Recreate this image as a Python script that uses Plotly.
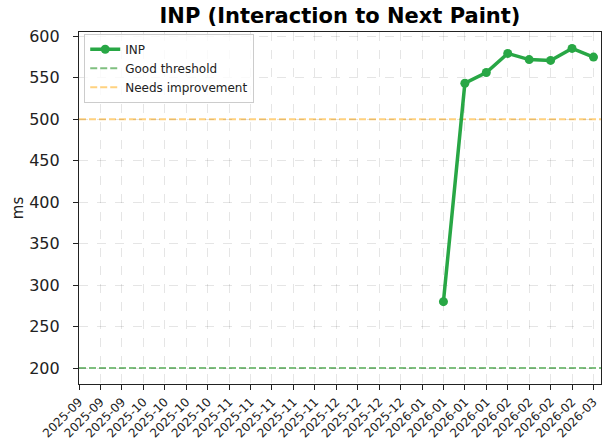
import plotly.graph_objects as go

# weekly tick dates shown on the x axis
week_dates = [
    "2025-09-14", "2025-09-21", "2025-09-28",
    "2025-10-05", "2025-10-12", "2025-10-19", "2025-10-26",
    "2025-11-02", "2025-11-09", "2025-11-16", "2025-11-23", "2025-11-30",
    "2025-12-07", "2025-12-14", "2025-12-21", "2025-12-28",
    "2026-01-04", "2026-01-11", "2026-01-18", "2026-01-25",
    "2026-02-01", "2026-02-08", "2026-02-15", "2026-02-22",
    "2026-03-01",
]
tick_labels = [d[:7] for d in week_dates]

# INP measurements (ms), only the weeks that have data
inp_dates = week_dates[17:]
inp_ms = [280, 543.5, 556.5, 579.5, 572, 571, 585.5, 575]

good_threshold = 200
needs_improvement = 500

GREEN = "#28a745"
FONT = "DejaVu Sans, sans-serif"

fig = go.Figure()

fig.add_trace(go.Scatter(
    x=inp_dates, y=inp_ms, name="INP", mode="lines+markers",
    line=dict(color=GREEN, width=3.5),
    marker=dict(color=GREEN, size=9),
))

fig.add_hline(y=good_threshold, line=dict(color="green", width=2, dash="7px,3px"),
              opacity=0.5, layer="below", showlegend=True, name="Good threshold")
fig.add_hline(y=needs_improvement, line=dict(color="orange", width=2, dash="7px,3px"),
              opacity=0.5, layer="below", showlegend=True, name="Needs improvement")

fig.update_layout(
    width=602, height=445,
    margin=dict(l=79, r=1, t=32, b=61),
    paper_bgcolor="white", plot_bgcolor="white",
    font=dict(family=FONT, color="#222222"),
    title=dict(text="<b>INP (Interaction to Next Paint)</b>",
               x=340 / 602, xanchor="center", y=1 - 16 / 445, yanchor="middle",
               font=dict(size=21, color="black")),
    showlegend=True,
    legend=dict(x=0.01, y=0.995, xanchor="left", yanchor="top",
                bgcolor="rgba(255,255,255,0.8)", bordercolor="#cccccc", borderwidth=1,
                font=dict(size=12), tracegroupgap=0, itemwidth=30),
)

fig.update_xaxes(
    range=["2025-09-14", "2026-03-03 10:48"],
    tickmode="array", tickvals=week_dates, ticktext=tick_labels,
    tickangle=-45, tickfont=dict(size=12), automargin=False,
    showgrid=True, gridcolor="rgba(0,0,0,0.1)", griddash="dash", gridwidth=1,
    showline=True, linecolor="#222222", linewidth=1.2, mirror=True,
    ticks="outside", ticklen=5, tickcolor="#222222", zeroline=False,
)
fig.update_yaxes(
    range=[180.7, 605.3], automargin=False,
    tickvals=[200, 250, 300, 350, 400, 450, 500, 550, 600],
    tickfont=dict(size=16), ticklabelstandoff=10,
    title=dict(text="ms", font=dict(size=15), standoff=1),
    showgrid=True, gridcolor="rgba(0,0,0,0.1)", griddash="dash", gridwidth=1,
    showline=True, linecolor="#222222", linewidth=1.2, mirror=True,
    ticks="outside", ticklen=5, tickcolor="#222222", zeroline=False,
)

# drop the browser's default body margin so the figure sits at the page corner
fig.write_html("out.html", config={"displayModeBar": False},
               post_script="document.body.style.margin = '0';")
